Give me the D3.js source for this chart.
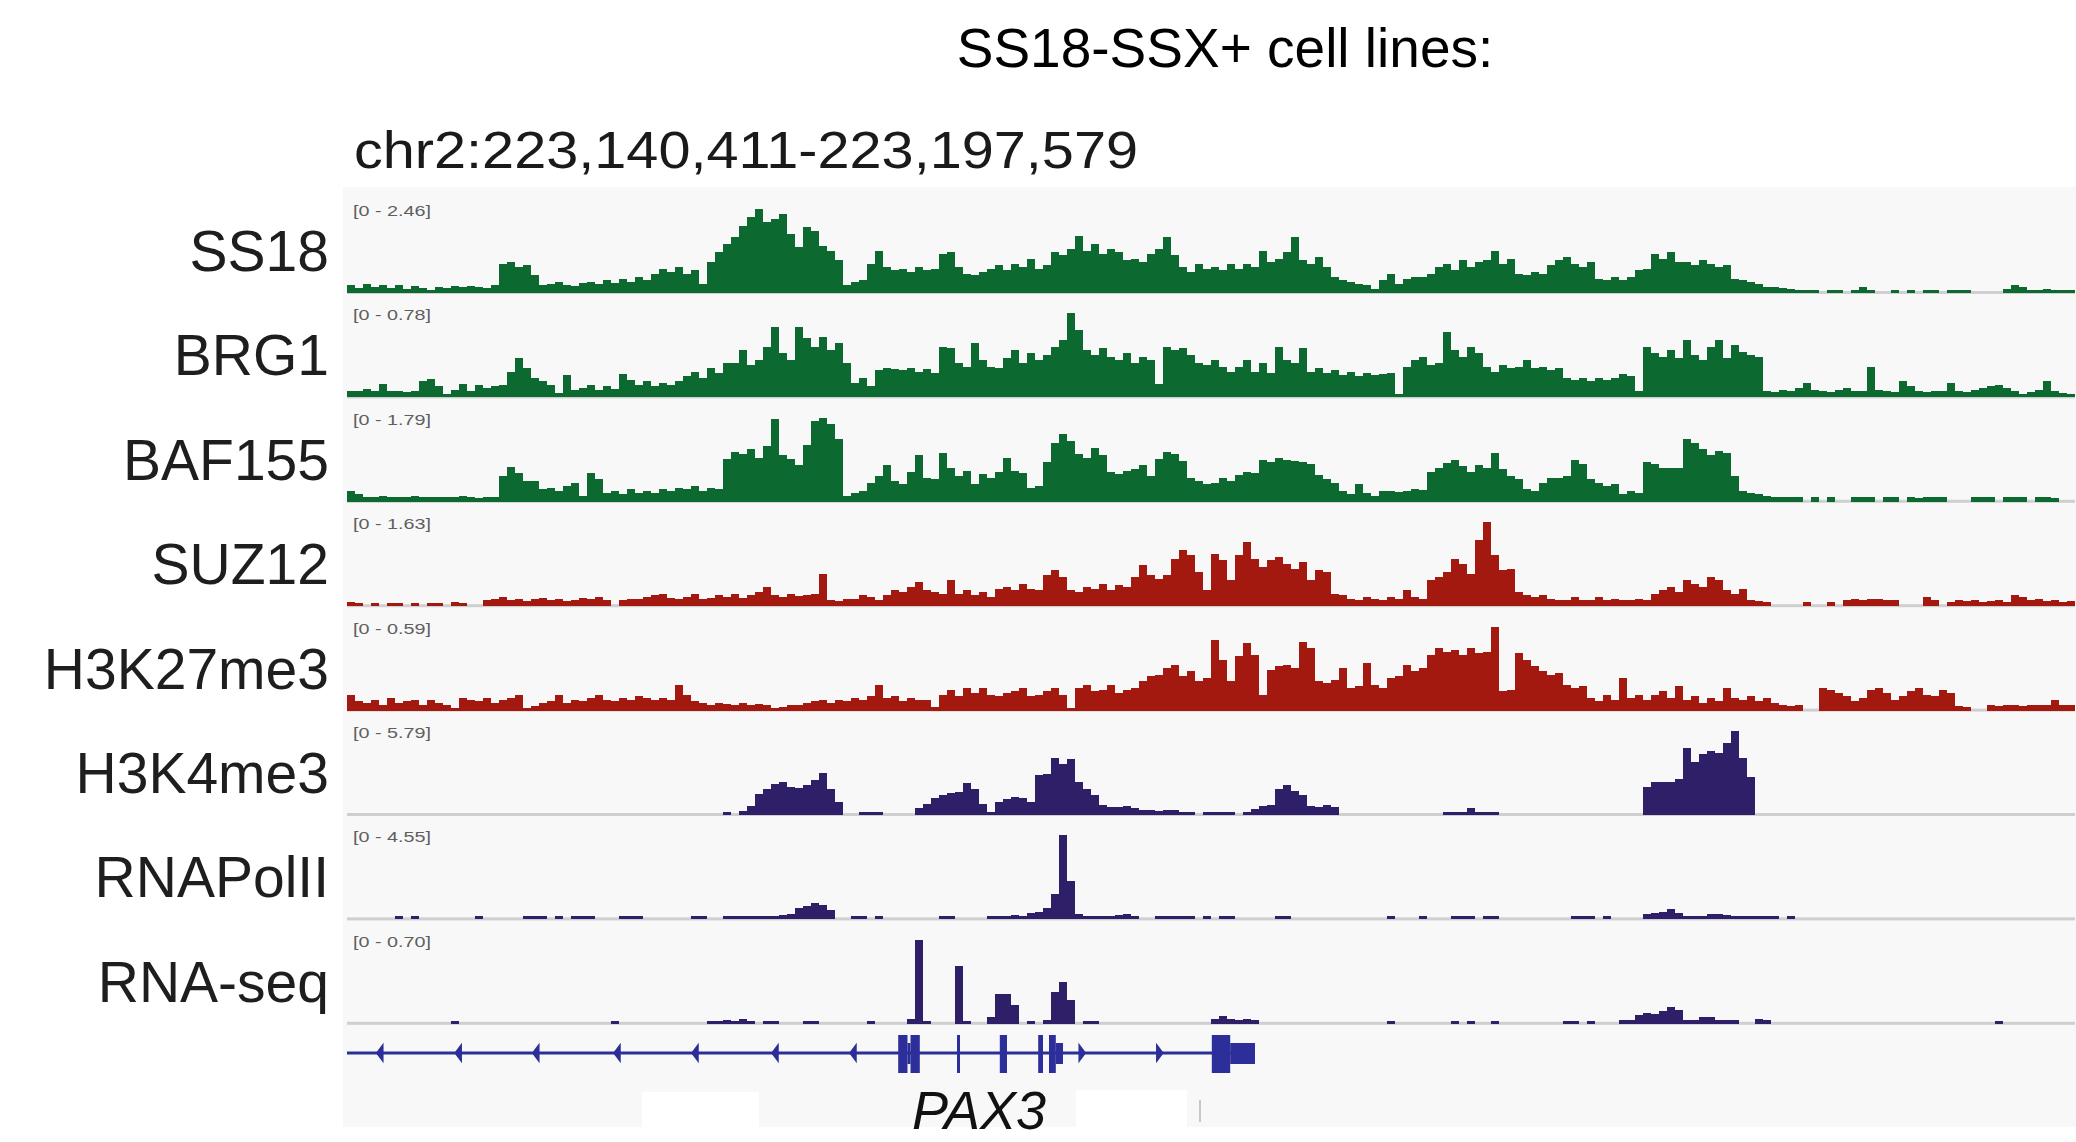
<!DOCTYPE html>
<html>
<head>
<meta charset="utf-8">
<title>SS18-SSX+ cell lines - PAX3 locus</title>
<script src="https://d3js.org/d3.v7.min.js"></script>
<style>
  body { margin: 0; background: #fff; }
  svg { display: block; font-family: "Liberation Sans", Arial, sans-serif; }
  .track-label { font-size: 57px; fill: #1e1e1e; text-anchor: end; }
  .range { font-size: 15px; fill: #5e5e5e; }
  .base { fill: #cfcfcf; }
</style>
</head>
<body>
<div id="chart"></div>
<script>
// each track = 216 equal bins across the locus, value = % of the track's data range
var nBins = 216;

var ss18 = [
  8,5,10,6,9,5,8,4,7,5, 1, 6,5,7,6,7,6,5,8, 34,36,30,32,20, 8,10,12,9,7,11,
  12,10,14,11,16,12,18,14,22, 28,24,30,22,26,10,
  36,48,58,66,80,90,100,84,88,94,70,54,78,74,56,50,38,8,
  12,14, 34,50,30, 26,28,24,30,26,28, 46,48,30, 22,20,24, 28,32,26,34,30,40,28,32,
  48,44,52, 68, 50,58,46,52,48, 38,40,36, 46,52,66,44, 30,24,34,28,30,26,34,
  28,34,30,50,36, 40,48,66, 38,34,42,30, 18,14,12,10,8,4, 14,22,10,16, 18,18,22,
  30,34,26,38,30,36,38,50, 34,40, 22,20,24,22, 32,38,42,34,30,36, 16,14,18,14,18,
  26,28, 46,40,48,36, 36,32,38,34,30,32, 16,14,12,10, 6,6,5,4, 2,2,1,
  0,3,3,0,3,6,3,0,0,3,0,3,0,3,2,0,3,3,3,0,0,0,0,4,8,6,3,3,4,3,3,3
];

var brg1 = [
  7,6,9,6,15,6,7,5,6, 18,21,12, 3, 8,15,6,14, 10,12,14, 30,46,34, 22,18,14, 4, 26,
  8,10,14,8,12,9, 27,20, 14,18,12,16,14,18, 24,30,22,34,28,40, 40,56,38,44, 60, 84,
  52,44, 84, 70,60,72,56, 64,40, 16,22,12, 32,34,33,32,34,30,33,28, 60,58,
  40,36,64,44, 36,34, 46,56,40,52,44,50, 60,68, 100,80, 56,50,58,48, 44,52,40,48,
  44, 15, 60,56,58,50, 40,38,44,36,30,
  35,44,30,40,28,60, 44,40,58, 30,34,28,32, 26,30,24,28,26, 27,28, 3,
  36,44,48,38,40, 78, 56,48,60, 52,36,30, 38,34, 36,44,34,36,32,34,
  22,20,22,18,22,20,22, 27,24, 7, 60, 52,48,56,46,68,50,44,60,68,46,62,54,50,48, 6,
  5,8,6,10,16,8,6,5,8,10,6,6,35,
  8,6,5,19,12,6,5,7,6,16,6,5,8,10,12,14,10,6,3,5,8,19,6,4,3
];

var baf155 = [
  12,8, 5,4,6,4,5,4,6,5,4,5,4,5,6,4,3,4, 5, 30,41,34, 24,24, 14,16,12,18, 22, 6,
  33,26, 10,12,8,14,10,12,9, 14,12,16,14,18,12,16,14, 50,59, 56,62,52,66, 98,
  55,50, 43, 67, 96, 100,92, 75, 6, 10,12, 22,30,43,24,20, 35,55, 27,26, 57,40,
  30,36,20,32,28, 35,51,36,34, 16,18, 47, 70,80,72, 56,52,64,55, 35,32,36,
  38,43,30, 50,59,56,48, 27,24,20, 22,27,24, 31,35,34, 49,47,52,49,48,47,44,
  31,26,22, 12,8,20,10,6, 12,12,11,12, 14,13,35, 40,46,49,42, 35, 43,40,57,
  38,30,26,14, 12,22, 27,28,30, 49,44, 26,22,18,20, 8,12,10, 47,44,39, 40,39,
  75,70, 63,55,60,58, 30, 12,10,8, 6,5,4,5,4,
  0,4,0,4,0,0,5,4,4,0,4,4,0,4,3,4,5,4,0,0,0,4,5,4,0,4,5,4,0,4,4,3,0,0
];

var suz12 = [
  4,3,0,3,0,3,3,0,3,0,3,3,0,4,3,0,0,
  6,8,10,6,8,5,7,9,6,8,5,6,9,7,10,6, 0,
  6,8,7,10,12,14,9,8,10,14,8,9,12,10,14,9,12,16,22, 12,10,14,11,12,14, 38, 6,5,7,
  8,12,10,6,12, 18,16,22,28,18, 16,14,30, 14,18,12,16,10, 20,22,18,26,20,18,
  36,42,34, 18,16, 22,20,26,18,24,22, 34,48,36,32, 36, 56,66,60, 40, 18,
  62,55, 30, 60,76,56, 46,54, 58,50, 44, 52, 30, 42,40, 14,12,
  8,6,10,8,6,10,8,18,10,8, 30,34,40, 56,50, 38, 78,100,60, 42,44,
  16,12,10,12,8, 6,6,10,6,6, 10,6,8,6,6,8,6, 14,18,22,16, 30,26, 22, 34,30,
  18,14,20, 6,5,4, 0,0,0,
  0,4,0,0,4,0, 6,8,6,8,8,6,6, 0,0,0, 10,6, 0, 4,6,5,6,4,5,6,4, 12,10, 6,8,5,6,4,5
];

var h3k27me3 = [
  18,10,8,12,6,14,8,10,12,6,12,8,6,2,14,12,10,14,8,12,14,18, 2,4,
  8,10,18,8,12,10,14,18,12,10, 14,12,16,14,12,14,12, 30, 18,10,8,
  6,8,7,6,8,6,7,6, 2,3, 6,6,8, 10,12,8,12,10, 14,12,16, 30, 14,16,10,14,12,12, 3,
  18,24,16,26,20,26,18,16,20,22,26,16,18,22,26,18, 2,
  26,30,22,24,30,20,24,26, 34,40,42, 50,54, 40,46,34, 38,84,60, 34, 64, 80,66, 18,
  48,52,54,50, 82,74, 34,32,36, 50, 26,28, 56, 30,26,38, 40,54,46,50,
  66,74,70,72,66,74,68, 70,100, 22,24, 68,60,52, 46,42,44, 30,26,28,
  14,10,18,12, 38, 14,18,12, 18,22,14,28, 12,16,8,14,10,26, 14,12,16,10,14,
  8,6,4,6, 0,0, 26,24,20, 16,10,14, 24,26,20, 12,16, 22,26,18,16,24,20, 4,3, 0,0,
  5,4,6,5,4,5,6,5,12,6,5
];

var h3k4me3 = [
  0,0,0,0,0,0,0,0,0,0,0,0,0,0,0,0,0,0,0,0,0,0,0,0,0,0,0,0,0,0,0,0,0,0,0,0,0,0,0,0,0,0,0,0,0,0,0,
  2, 0, 4,10, 24,30,36,39, 33,31,35, 41,49, 30,14, 0,0, 2,2,2, 0,0,0,0, 7,12, 19,23,
  25,26, 37,30, 12,3, 15,18,21,19, 14, 47,48, 67,60,66, 39,30,23, 11,8,9,10,7,
  5,5,4,5,5, 3,3,0, 2,2,2,2, 0,3, 6,10,11, 30,35,28,23, 10,9,11,9,
  0,0,0,0,0,0,0,0,0,0,0,0,0, 3,3,3,7,3,3,2,
  0,0,0,0,0,0,0,0,0,0,0,0,0,0,0,0,0,0,
  33,38, 39,39,42, 80, 63, 72,76,74, 86, 100, 68,45,
  0,0,0,0,0,0,0,0,0,0,0,0,0,0,0,0,0,0,0,0,0,0,0,0,0,0,0,0,0,0,0,0,0,0,0,0,0,0,0,0
];

var rnapol2 = [
  0,0,0,0,0, 0,2, 0, 2,0, 0,0,0,0,0,0, 2, 0,0,0,0,0, 2,2, 2, 0, 2,0,2,2,2,0, 0,0,
  2,2,2,0, 0,0,0,0,0, 2,2,0, 0, 2,2,2,2,2,3,3, 4,5, 13,15, 19,16,10, 0, 0, 2,2, 0,2,
  0,0,0,0,0,0,0, 3,3,0, 0,0,0, 3,3,3,4,3, 6,8, 12, 30, 100, 45,
  5,3,3,3,3,4,5,3, 0,0,2, 2,2,2,2,0, 2,0,2,2,0, 0,0,0,0, 2,2,
  0,0,0,0,0,0,0,0,0,0,0,0, 2, 0,0,0, 2, 0,0,0, 2,2,2, 0, 2,2,
  0,0,0,0,0,0,0,0,0, 2,2,2, 0, 2, 0,0,0,0, 5,7,8,11,6, 3,3,3, 5,5,4, 3,3,2,2,2,2, 0, 2,
  0,0,0,0,0,0,0,0,0,0,0,0,0,0,0,0,0,0,0,0,0,0,0,0,0,0,0,0,0,0,0,0,0,0,0
];

var rnaseq = [
  0,0,0,0,0,0,0,0,0,0,0,0,0, 2, 0,0,0,0,0,0,0,0,0,0,0,0,0,0,0,0,0,0,0, 2,
  0,0,0,0,0,0,0,0,0,0,0, 2,2,3, 2,4,2, 0, 2,2, 0,0,0, 2,2, 0,0,0,0,0,0, 2, 0,0,0,0,
  4, 100, 2,0,0,0, 69, 2,0,0, 7, 35,35, 21, 0, 2, 0, 3, 37,49,27, 0, 2,2,0,
  0,0,0,0,0,0,0,0,0,0,0,0,0, 4,8,4,3,4,3,
  0,0,0,0,0,0,0,0,0,0,0,0,0,0,0,0, 2, 0,0,0,0,0,0,0, 2,0,2, 0,0, 2,
  0,0,0,0,0,0,0,0, 2,2,0, 2, 0,0,0, 3,3, 9,12,11,14,19,15, 3,3, 7,7, 3,3,3, 0,0, 5,3,
  0,0,0,0,0,0,0,0,0,0,0,0,0,0,0,0,0,0,0,0,0,0,0,0,0,0,0,0, 2, 0,0,0,0,0,0,0,0,0
];

var trackNames = ["SS18", "BRG1", "BAF155", "SUZ12", "H3K27me3", "H3K4me3", "RNAPolII", "RNA-seq"];
var trackRanges = ["[0 - 2.46]", "[0 - 0.78]", "[0 - 1.79]", "[0 - 1.63]", "[0 - 0.59]", "[0 - 5.79]", "[0 - 4.55]", "[0 - 0.70]"];
var trackValues = [ss18, brg1, baf155, suz12, h3k27me3, h3k4me3, rnapol2, rnaseq];
var trackGroup = ["baf", "baf", "baf", "prc", "prc", "active", "active", "active"];

// PAX3 gene model, positions in bins
var geneSpan = [0, 113.5];
var exons = [
  {start: 68.9, end: 70.06, kind: "cds"}, {start: 70.06, end: 70.44, kind: "utr"}, {start: 70.44, end: 71.6, kind: "cds"},
  {start: 76.25, end: 76.6, kind: "cds"},
  {start: 81.6, end: 82.5, kind: "cds"},
  {start: 86.4, end: 87.0, kind: "cds"},
  {start: 87.75, end: 88.6, kind: "cds"}, {start: 88.6, end: 89.5, kind: "utr"},
  {start: 108.1, end: 110.4, kind: "cds"}, {start: 110.4, end: 113.5, kind: "utr"}
];
var strandMarks = [
  {pos: 4.1, dir: -1}, {pos: 13.9, dir: -1}, {pos: 23.6, dir: -1}, {pos: 33.75, dir: -1},
  {pos: 43.5, dir: -1}, {pos: 53.5, dir: -1}, {pos: 63.25, dir: -1},
  {pos: 91.9, dir: 1}, {pos: 101.6, dir: 1}
];

var colors = {baf: "#0c6a30", prc: "#a3190f", active: "#2f1f68"};
var geneColor = "#2c2e9a";

var W = 2076, H = 1142;
var svg = d3.select("#chart").append("svg").attr("width", W).attr("height", H);
svg.append("rect").attr("width", W).attr("height", H).attr("fill", "#fff");

// IGV data panel
var panelLeft = 343, panelTop = 187, panelBottom = 1127;
svg.append("rect").attr("x", panelLeft).attr("y", panelTop)
  .attr("width", W - panelLeft).attr("height", panelBottom - panelTop).attr("fill", "#f8f8f8");

var x = d3.scaleLinear().domain([0, nBins]).range([347, 2075]);

// title + locus
svg.append("text").attr("x", 1225).attr("y", 67).attr("text-anchor", "middle")
  .style("font-size", "55px").attr("fill", "#000").text("SS18-SSX+ cell lines:");
svg.append("text").attr("x", 354).attr("y", 168)
  .attr("textLength", 784).attr("lengthAdjust", "spacingAndGlyphs")
  .style("font-size", "52px").attr("fill", "#1a1a1a").text("chr2:223,140,411-223,197,579");

var trackH = 83;
trackNames.forEach(function(name, t) {
  var base = 292 + 104.4 * t;
  var y = d3.scaleLinear().domain([0, 100]).range([base, base - trackH]);
  var g = svg.append("g");

  g.append("rect").attr("class", "base")
    .attr("x", x(0)).attr("y", base - 1).attr("width", x(nBins) - x(0)).attr("height", 3);

  g.selectAll("rect.bar")
    .data(trackValues[t].map(function(v, i) { return {i: i, v: v}; }).filter(function(d) { return d.v > 0; }))
    .enter().append("rect")
    .attr("class", "bar")
    .attr("x", function(d) { return x(d.i); })
    .attr("width", function(d) { return x(d.i + 1) - x(d.i); })
    .attr("y", function(d) { return Math.min(y(d.v), base - 2); })
    .attr("height", function(d) { return Math.max(base - y(d.v), 2) + 1; })
    .attr("fill", colors[trackGroup[t]])
    .attr("shape-rendering", "crispEdges");

  g.append("text").attr("class", "range").attr("x", 353).attr("y", base - 76)
    .attr("textLength", 78).attr("lengthAdjust", "spacingAndGlyphs")
    .text(trackRanges[t]);

  svg.append("text").attr("class", "track-label").attr("x", 329).attr("y", base - 21).text(name);
});

// gene track
var gy = 1053;
var gene = svg.append("g").attr("fill", geneColor).attr("stroke", geneColor);
gene.append("line").attr("x1", x(geneSpan[0])).attr("x2", x(geneSpan[1]))
  .attr("y1", gy).attr("y2", gy).attr("stroke-width", 3);
gene.selectAll("path.strand").data(strandMarks).enter().append("path")
  .attr("class", "strand")
  .attr("d", function(d) {
    var cx = x(d.pos), s = d.dir;
    return "M" + (cx - 3 * s) + "," + (gy - 8) + "L" + (cx + 3 * s) + "," + gy + "L" + (cx - 3 * s) + "," + (gy + 8) + "Z";
  })
  .attr("stroke-width", 1.5);
gene.selectAll("rect.exon").data(exons).enter().append("rect")
  .attr("class", "exon")
  .attr("x", function(d) { return x(d.start); })
  .attr("width", function(d) { return Math.max(x(d.end) - x(d.start), 3); })
  .attr("y", function(d) { return d.kind === "cds" ? gy - 18 : gy - 10; })
  .attr("height", function(d) { return d.kind === "cds" ? 38 : 21; })
  .attr("stroke", "none");

// blank patches under the gene row in the original screenshot
svg.append("rect").attr("x", 642).attr("y", 1092).attr("width", 117).attr("height", 50).attr("fill", "#fff");
svg.append("rect").attr("x", 1076).attr("y", 1090).attr("width", 111).attr("height", 52).attr("fill", "#fff");
svg.append("rect").attr("x", 1199).attr("y", 1100).attr("width", 2).attr("height", 22).attr("fill", "#c8c8c8");

svg.append("text").attr("x", 912).attr("y", 1129)
  .style("font-size", "54px").style("font-style", "italic").attr("fill", "#111").text("PAX3");
</script>
</body>
</html>
